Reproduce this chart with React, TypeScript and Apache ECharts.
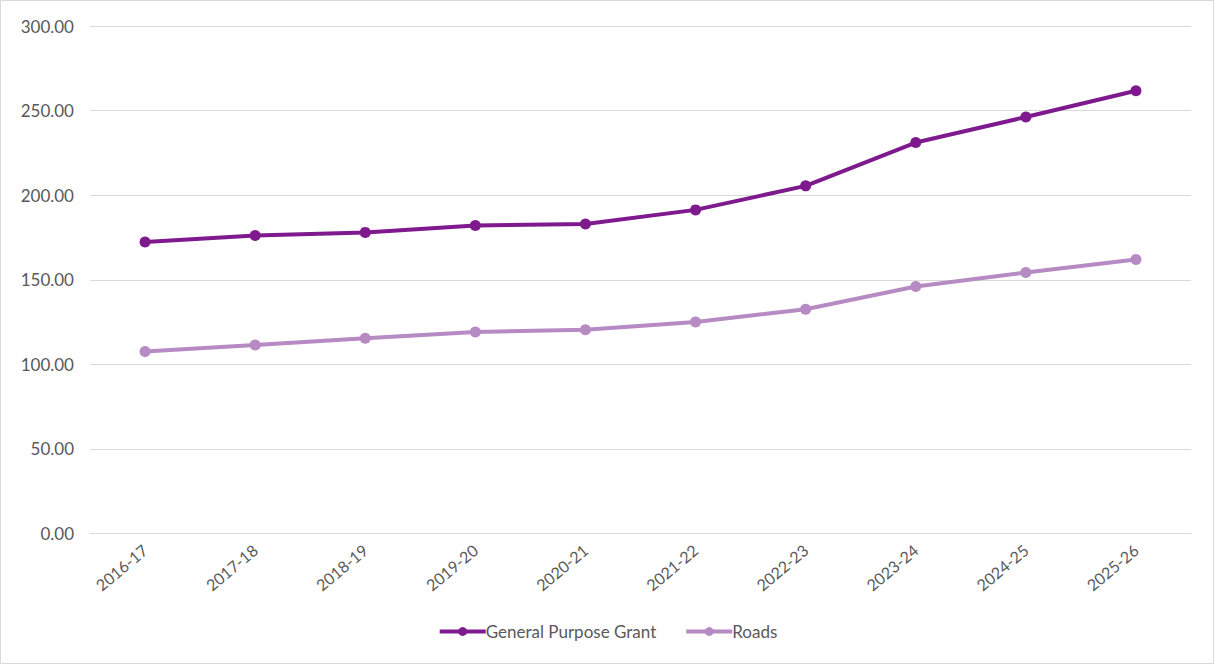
import React, { useEffect, useRef } from "react";
import * as echarts from "echarts";

const categories = ["2016-17", "2017-18", "2018-19", "2019-20", "2020-21", "2021-22", "2022-23", "2023-24", "2024-25", "2025-26"];
const generalPurposeGrant = [172.3, 176.1, 178.0, 182.1, 183.0, 191.3, 205.5, 231.1, 246.2, 261.7];
const roads = [107.6, 111.4, 115.4, 119.1, 120.4, 125.0, 132.6, 146.0, 154.3, 162.0];
const yTicks = { min: 0, max: 300, interval: 50 };

const FONT = "Lato, 'Open Sans', sans-serif";
const TEXT = "#595959";
const GRIDC = "#d9d9d9";

export default function App() {
  const ref = useRef<HTMLDivElement>(null);
  useEffect(() => {
    if (!ref.current) return;
    const chart = echarts.init(ref.current, null, { renderer: "svg" });
    chart.setOption({
      animation: false,
      backgroundColor: "#ffffff",
      textStyle: { fontFamily: FONT },
      graphic: [
        {
          type: "rect",
          shape: { x: 0.5, y: 0.5, width: 1213, height: 663 },
          style: { fill: "none", stroke: GRIDC, lineWidth: 1 },
          silent: true,
        },
      ],
      grid: { left: 90, right: 24, top: 26, bottom: 131.5, containLabel: false },
      legend: {
        bottom: 20,
        left: "center",
        itemWidth: 46,
        itemHeight: 11,
        itemGap: 28,
        lineStyle: { width: 4 },
        textStyle: { color: TEXT, fontSize: 17, fontFamily: FONT, padding: [0, 0, 0, -5] },
        data: ["General Purpose Grant", "Roads"],
      },
      xAxis: {
        type: "category",
        data: categories,
        boundaryGap: true,
        axisLine: { show: true, lineStyle: { color: GRIDC, width: 1 } },
        axisTick: { show: false },
        axisLabel: { color: TEXT, fontSize: 16, fontFamily: FONT, rotate: 40, margin: 14 },
      },
      yAxis: {
        type: "value",
        min: yTicks.min,
        max: yTicks.max,
        interval: yTicks.interval,
        axisLine: { show: false },
        axisTick: { show: false },
        splitLine: { lineStyle: { color: GRIDC, width: 1 } },
        axisLabel: {
          color: TEXT,
          fontSize: 17,
          fontFamily: FONT,
          margin: 16,
          formatter: (v: number) => v.toFixed(2),
        },
      },
      series: [
        {
          name: "General Purpose Grant",
          type: "line",
          data: generalPurposeGrant,
          symbol: "circle",
          symbolSize: 11,
          lineStyle: { color: "#7e1a8e", width: 4 },
          itemStyle: { color: "#7e1a8e" },
        },
        {
          name: "Roads",
          type: "line",
          data: roads,
          symbol: "circle",
          symbolSize: 11,
          lineStyle: { color: "#b68ac3", width: 4 },
          itemStyle: { color: "#b68ac3" },
        },
      ],
    });
    return () => chart.dispose();
  }, []);
  return (
    <div
      ref={ref}
      style={{ position: "fixed", left: 0, top: 0, width: 1215, height: 665 }}
    />
  );
}
